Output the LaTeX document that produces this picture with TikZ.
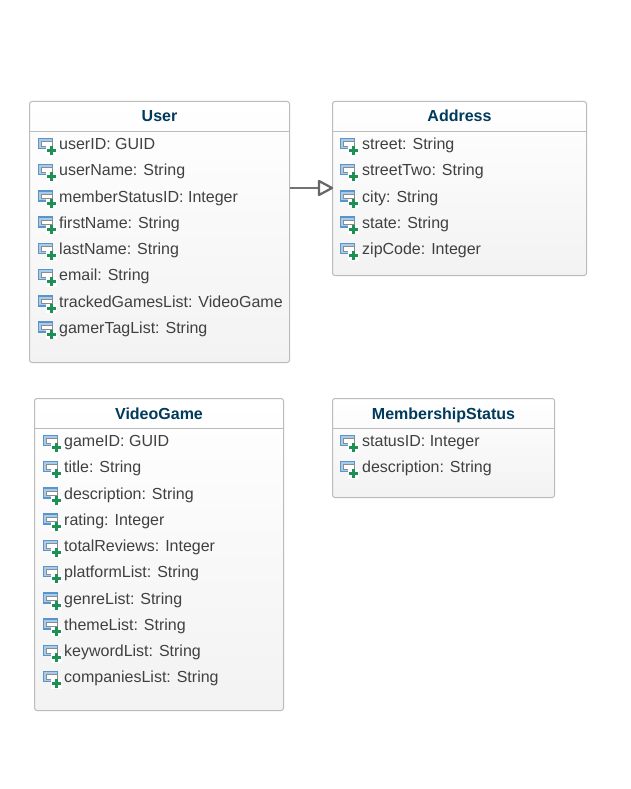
\documentclass[tikz,border=0pt]{standalone}
\usepackage{fontspec}
\usetikzlibrary{calc}
\setmainfont{Liberation Sans}
\definecolor{txt}{HTML}{404040}
\definecolor{ttl}{HTML}{003A5C}
\definecolor{edge}{HTML}{BBBBBB}
\definecolor{icb}{HTML}{5A94CC}
\definecolor{icf}{HTML}{A9CBEA}
\definecolor{plus}{HTML}{1E8F55}
\tikzset{
  x=1pt,y=-1pt,
  classbox/.style={draw=edge,line width=1pt,rounded corners=2.5pt,top color=white,bottom color=black!5,anchor=north west,inner sep=0pt,outer sep=0pt},
  classtitle/.style={font=\fontsize{16}{18}\selectfont\bfseries,text=ttl,anchor=base,inner sep=0pt},
  attrtext/.style={font=\fontsize{16}{18}\selectfont,text=txt,anchor=base west,inner sep=0pt},
  attr/.pic={
    \draw[icb,line width=1.4pt,fill=icf] (-8,-6) rectangle (6,4);
    \draw[black!45,line width=0.7pt,fill=white] (-5,-3) rectangle (5.5,1.5);
    \fill[white] (-0.5,1.5) rectangle (10,11);
    \fill[plus] (3.5,1.8) rectangle (6.7,10.5);
    \fill[plus] (0.8,4.5) rectangle (9.5,7.7);
  }
}
\newcommand{\classbox}[8]{% name,x,y,w,h,title,sep y,title baseline y
  \node[classbox,minimum width=#4pt,minimum height=#5pt] (#1) at (#2,#3) {};
  \draw[edge,line width=1pt] (#1.north west |- 0,#7) -- (#1.north east |- 0,#7);
  \node[classtitle] (#1title) at (#1.north |- 0,#8) {#6};
}
\newcommand{\attrrow}[5]{% name,iconx,textx,y,text
  \pic at (#2,#4) {attr};
  \node[attrtext] (#1) at (#3,{#4+5}) {#5};
}
\begin{document}
\begin{tikzpicture}
\useasboundingbox (0,0) rectangle (630,789);
\fill[white] (0,0) rectangle (630,789);
\classbox{user}{29.5}{101.5}{260}{261}{User}{131.5}{121.5}
\classbox{address}{332.5}{101.5}{254}{174}{Address}{131.5}{121.5}
\classbox{game}{34.5}{398.5}{249}{312}{VideoGame}{428.5}{419.5}
\classbox{status}{332.5}{398.5}{222}{99}{MembershipStatus}{428.5}{419.5}
\attrrow{u1}{46.5}{59}{144.5}{userID: GUID}
\attrrow{u2}{46.5}{59}{170.5}{userName: String}
\attrrow{u3}{46.5}{59}{197}{memberStatusID: Integer}
\attrrow{u4}{46.5}{59}{223}{firstName: String}
\attrrow{u5}{46.5}{59}{249.5}{lastName: String}
\attrrow{u6}{46.5}{59}{275.5}{email: String}
\attrrow{u7}{46.5}{59}{302}{trackedGamesList: VideoGame}
\attrrow{u8}{46.5}{59}{328}{gamerTagList: String}
\attrrow{a1}{348.5}{362}{144.5}{street: String}
\attrrow{a2}{348.5}{362}{170.5}{streetTwo: String}
\attrrow{a3}{348.5}{362}{197}{city: String}
\attrrow{a4}{348.5}{362}{223}{state: String}
\attrrow{a5}{348.5}{362}{249.5}{zipCode: Integer}
\attrrow{g1}{51.5}{64}{441.5}{gameID: GUID}
\attrrow{g2}{51.5}{64}{467.5}{title: String}
\attrrow{g3}{51.5}{64}{494}{description: String}
\attrrow{g4}{51.5}{64}{520}{rating: Integer}
\attrrow{g5}{51.5}{64}{546.5}{totalReviews: Integer}
\attrrow{g6}{51.5}{64}{572.5}{platformList: String}
\attrrow{g7}{51.5}{64}{599}{genreList: String}
\attrrow{g8}{51.5}{64}{625}{themeList: String}
\attrrow{g9}{51.5}{64}{651.5}{keywordList: String}
\attrrow{g10}{51.5}{64}{677.5}{companiesList: String}
\attrrow{s1}{348.5}{362}{441.5}{statusID: Integer}
\attrrow{s2}{348.5}{362}{467.5}{description: String}
\coordinate (linky) at (0,188);
\coordinate (headbase) at (319,188);
\draw[black!55,line width=2.2pt] (user.east |- linky) -- (headbase |- linky);
\draw[black!60,line width=2.2pt,line join=round,fill=white] (319,181) -- ($(address.west |- linky)+(-0.5,0)$) -- (319,195) -- cycle;
\end{tikzpicture}
\end{document}
